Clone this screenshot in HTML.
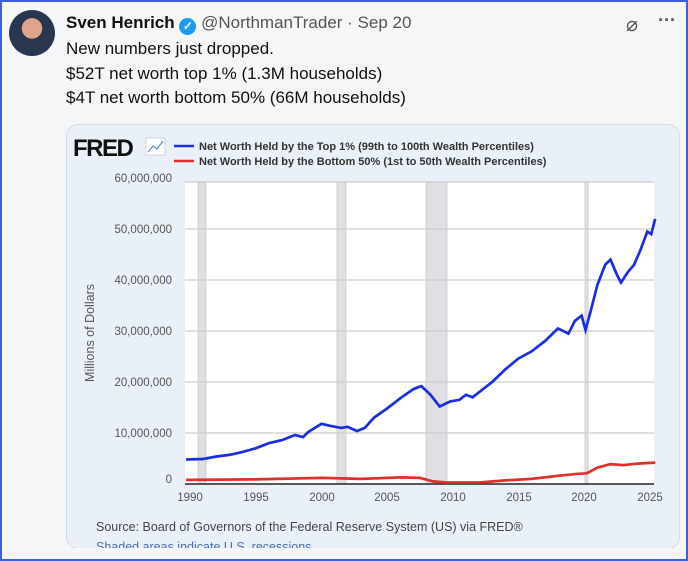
<!DOCTYPE html>
<html><head><meta charset="utf-8"><style>
*{margin:0;padding:0;box-sizing:border-box}
body{width:688px;height:561px;overflow:hidden;background:#f5f6f8;font-family:"Liberation Sans",sans-serif;position:relative}
.frame{position:absolute;left:0;top:0;width:688px;height:561px;border:2px solid #3d5fe0}
.av{position:absolute;left:9px;top:10px;width:46px;height:46px;border-radius:50%;background:radial-gradient(circle at 50% 40%,#e0a48a 0 28%,#2a3550 29% 100%)}
.t{position:absolute;left:66px;color:#111;font-size:17px}
.card{position:absolute;left:66px;top:124px;width:614px;height:425px;background:#eaf0f8;border:1px solid #d6dde8;border-radius:12px;overflow:hidden}
</style></head><body>
<div class="frame"></div>
<div class="av"></div>
<div class="t" style="top:13px;font-weight:bold">Sven Henrich <span style="display:inline-block;width:17px;height:17px;border-radius:50%;background:#1d9bf0;color:#fff;font-size:12px;text-align:center;line-height:17px;vertical-align:-2px">✓</span> <span style="font-weight:normal;color:#555">@NorthmanTrader · Sep 20</span></div>
<div style="position:absolute;left:626px;top:12px;font-size:20px;color:#555">⌀</div>
<div style="position:absolute;left:658px;top:10px;font-size:18px;color:#555;font-weight:bold">···</div>
<div class="t" style="top:39px">New numbers just dropped.</div>
<div class="t" style="top:64px">$52T net worth top 1% (1.3M households)</div>
<div class="t" style="top:88px">$4T net worth bottom 50% (66M households)</div>
<div class="card"></div>
<svg width="688" height="561" style="position:absolute;left:0;top:0" font-family="Liberation Sans, sans-serif">
<text x="73" y="156" font-size="24" font-weight="bold" fill="#111" letter-spacing="-1.5">FRED</text>
<rect x="146" y="138" width="19" height="17" fill="#fff" stroke="#aac" stroke-width="0.5"/>
<polyline points="148,152 153,146 157,149 163,141" fill="none" stroke="#5b8fd0" stroke-width="1.2"/>
<line x1="174" y1="146" x2="194" y2="146" stroke="#1a2ee0" stroke-width="2.5"/>
<line x1="174" y1="161" x2="194" y2="161" stroke="#e0302a" stroke-width="2.5"/>
<text x="199" y="150" font-size="11" font-weight="bold" fill="#333">Net Worth Held by the Top 1% (99th to 100th Wealth Percentiles)</text>
<text x="199" y="165" font-size="11" font-weight="bold" fill="#333">Net Worth Held by the Bottom 50% (1st to 50th Wealth Percentiles)</text>
<rect x="185" y="182" width="469" height="302" fill="#fff"/>
<g fill="#e0e0e4" stroke="#c8c8cc" stroke-width="0.8">
<rect x="198" y="182" width="8" height="302"/><rect x="337" y="182" width="9" height="302"/>
<rect x="426" y="182" width="21" height="302"/><rect x="585" y="182" width="3" height="302"/></g>
<g stroke="#ccc" stroke-width="1.2">
<line x1="185" x2="654" y1="182" y2="182"/><line x1="185" x2="654" y1="229" y2="229"/><line x1="185" x2="654" y1="280" y2="280"/><line x1="185" x2="654" y1="331" y2="331"/><line x1="185" x2="654" y1="382" y2="382"/><line x1="185" x2="654" y1="433" y2="433"/></g>
<line x1="185" x2="654" y1="484" y2="484" stroke="#222" stroke-width="1.5"/>
<g font-size="11.5" fill="#555" text-anchor="end">
<text x="172" y="182">60,000,000</text><text x="172" y="233">50,000,000</text><text x="172" y="284">40,000,000</text><text x="172" y="335">30,000,000</text><text x="172" y="386">20,000,000</text><text x="172" y="437">10,000,000</text><text x="172" y="483">0</text></g>
<text transform="translate(94,333) rotate(-90)" font-size="12.5" fill="#555" text-anchor="middle">Millions of Dollars</text>
<g font-size="11.5" fill="#555" text-anchor="middle">
<text x="190" y="501">1990</text><text x="256" y="501">1995</text><text x="322" y="501">2000</text><text x="387" y="501">2005</text><text x="453" y="501">2010</text><text x="519" y="501">2015</text><text x="584" y="501">2020</text><text x="650" y="501">2025</text></g>
<path id="top" fill="none" stroke="#1a2ee0" stroke-width="2.7"/>
<path id="bot" fill="none" stroke="#e0302a" stroke-width="2.7"/>
<text x="96" y="531" font-size="12.5" fill="#444">Source: Board of Governors of the Federal Reserve System (US) via FRED®</text>
<text x="96" y="551" font-size="12.5" fill="#4a6fb0">Shaded areas indicate U.S. recessions</text>
<rect x="66" y="548" width="614" height="11" fill="#f5f6f8"/>
</svg>
<script>
function X(t){return 190+(t-1990)*13.14}function Y(v){return 484-v*5.1}
function P(d){return d.map((p,i)=>(i?'L':'M')+X(p[0]).toFixed(1)+','+Y(p[1]).toFixed(1)).join('')}
var top1=[[1989.7,4.8],[1991,4.9],[1992,5.4],[1993,5.7],[1994,6.3],[1995,7],[1996,8],[1997,8.6],[1998,9.6],[1998.6,9.2],[1999,10.2],[2000,11.8],[2000.7,11.4],[2001.5,11],[2002,11.2],[2002.7,10.4],[2003.3,11],[2004,13],[2005,14.8],[2006,16.8],[2007,18.6],[2007.6,19.2],[2008.3,17.5],[2009,15.2],[2009.8,16.2],[2010.5,16.5],[2011,17.5],[2011.5,17],[2012,18],[2013,20],[2014,22.5],[2015,24.6],[2016,26],[2017,28],[2018,30.5],[2018.8,29.5],[2019.3,32],[2019.8,33],[2020.1,30.2],[2020.5,34],[2021,39],[2021.6,43],[2022,44],[2022.5,41],[2022.8,39.5],[2023.3,41.5],[2023.8,43],[2024.3,46],[2024.8,49.5],[2025.1,49],[2025.4,52]];
var bot=[[1989.7,0.8],[1995,0.9],[2000,1.2],[2003,1],[2006,1.3],[2007.5,1.2],[2008.5,0.5],[2009.5,0.3],[2012,0.3],[2014,0.7],[2016,1],[2018,1.6],[2019.5,2],[2020.2,2.1],[2021,3.2],[2022,3.9],[2023,3.7],[2024,4],[2025.4,4.2]];
document.getElementById('top').setAttribute('d',P(top1));
document.getElementById('bot').setAttribute('d',P(bot));
</script>
</body></html>
